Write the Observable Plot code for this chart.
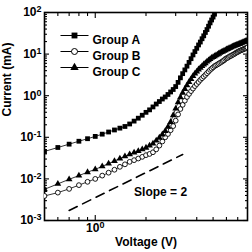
<!DOCTYPE html>
<html>
<head>
<meta charset="utf-8">
<script src="https://cdn.jsdelivr.net/npm/d3@7"></script>
<script src="https://cdn.jsdelivr.net/npm/@observablehq/plot@0.6"></script>
<style>
  html, body { margin: 0; padding: 0; background: #fff; }
  svg { display: block; }
</style>
</head>
<body>
<div id="chart"></div>
<script>
// Bias sweep (V) and measured current (mA) for each group
const voltage = [0.5,0.6,0.7,0.8,0.9,1.0,1.1,1.2,1.3,1.4,1.5,1.6,1.7,1.8,1.9,2.0,2.1,2.2,2.3,2.4,2.5,2.6,2.7,2.8,2.9,3.0,3.1,3.2,3.3,3.4,3.5,3.6,3.7,3.8,3.9,4.0,4.1,4.2,4.3,4.4,4.5,4.6,4.7,4.8,4.9,5.0,5.1,5.2,5.3,5.4,5.5,5.6,5.7,5.8,5.9,6.0,6.1,6.2,6.3,6.4,6.5,6.6,6.7,6.8,6.9,7.0,7.1,7.2,7.3,7.4,7.5,7.6,7.7,7.8,7.9,8.0];

const groupA = [0.0457,0.0569,0.0684,0.0804,0.0925,0.105,0.119,0.134,0.150,0.166,
  0.182,0.209,0.245,0.288,0.339,0.398,0.457,0.537,0.631,0.724,
  0.832,0.933,1.07,1.23,1.41,1.66,2.09,2.69,3.39,4.17,
  5.13,6.31,7.76,9.55,11.5,13.8,16.6,19.5,23.4,27.5,
  33.1,38.9,46.8,56.2,66.1,77.6,91.2];

const groupB = [0.00389,0.00468,0.00575,0.00708,0.00851,0.0100,0.0120,0.0141,0.0166,0.0195,
  0.0224,0.0257,0.0282,0.0309,0.0339,0.0372,0.0398,0.0437,0.0513,0.0631,
  0.0794,0.100,0.120,0.148,0.186,0.251,0.355,0.479,0.603,0.759,
  0.933,1.10,1.29,1.48,1.70,1.91,2.14,2.40,2.63,2.88,
  3.16,3.47,3.80,4.17,4.47,4.79,5.13,5.37,5.62,5.89,
  6.17,6.46,6.76,7.08,7.59,7.94,8.13,8.51,8.91,9.12,
  9.55,9.77,10.2,10.5,11.0,11.2,11.7,12.0,12.3,12.6,
  12.9,13.2,13.5,13.8,14.1,14.5];

const groupC = [0.00562,0.00759,0.00977,0.0120,0.0145,0.0170,0.0200,0.0234,0.0269,0.0309,
  0.0347,0.0389,0.0427,0.0468,0.0513,0.0562,0.0631,0.0708,0.0832,0.0977,
  0.117,0.141,0.178,0.234,0.339,0.490,0.692,0.912,1.17,1.45,
  1.78,2.14,2.51,2.95,3.39,3.80,4.27,4.68,5.13,5.62,
  6.03,6.61,7.08,7.59,8.13,8.51,8.91,9.33,9.77,10.2,
  10.7,11.2,11.5,12.0,12.3,12.9,13.2,13.8,14.1,14.5,
  15.1,15.5,15.8,16.2,16.6,17.0,17.4,17.8,18.2,18.6,
  19.1,19.5,20.0,20.4,20.9,21.4];

const groupNames = ["Group A", "Group B", "Group C"];

// Axis ticks
const yDecades = [1e-3, 1e-2, 1e-1, 1, 10, 100];
const yMinorFactors = [2, 3, 4, 5, 6, 7, 8, 9];
const xMajorTicks = [1];
const xMinorTicks = [0.6, 0.7, 0.8, 0.9, 2, 3, 4, 5, 6, 7];

// Reference power-law guide
const slopeValue = 2;
const slopeVoltage = [0.7, 3.3];
const slopeStartCurrent = 0.00174;
const slopeLabel = "Slope = " + slopeValue;

const series = [groupA, groupB, groupC];
const rows = series.flatMap((values, g) =>
  values.map((I, i) => ({V: voltage[i], I, group: groupNames[g]})));
const byGroup = name => rows.filter(d => d.group === name);

const yMinorTicks = yDecades.slice(0, -1).flatMap(d => yMinorFactors.map(k => k * d));
const guide = slopeVoltage.map(V => ({V, I: slopeStartCurrent * Math.pow(V / slopeVoltage[0], slopeValue)}));

const font = "'Liberation Sans', Arial, Helvetica, sans-serif";
const markerStyle = {
  "Group A": {symbol: "square", fill: "#000", stroke: "none", r: 2.7},
  "Group B": {symbol: "circle", fill: "#fff", stroke: "#000", r: 2.4},
  "Group C": {symbol: "triangle", fill: "#000", stroke: "none", r: 2.5}
};
const legendLine = {draw(ctx) { ctx.moveTo(-14, 0); ctx.lineTo(14, 0); }};
const textStyle = {fontFamily: font, fontWeight: "bold", fontSize: 12, fill: "#000"};
const noLabel = () => "";

const tickMarks = (ticks, size) => [
  Plot.axisX(ticks, {anchor: "bottom", tickSize: size, dy: -size, tickFormat: noLabel, label: null, strokeWidth: 1.1}),
  Plot.axisX(ticks, {anchor: "top", tickSize: size, dy: size, tickFormat: noLabel, label: null, strokeWidth: 1.1})
];
const tickMarksY = (ticks, size) => [
  Plot.axisY(ticks, {anchor: "left", tickSize: size, dx: size, tickFormat: noLabel, label: null, strokeWidth: 1.1}),
  Plot.axisY(ticks, {anchor: "right", tickSize: size, dx: -size, tickFormat: noLabel, label: null, strokeWidth: 1.1})
];

const legendMarks = groupNames.flatMap((name, i) => {
  const dy = 23 + 16 * i;
  const m = markerStyle[name];
  return [
    Plot.dot([name], {x: null, y: null, frameAnchor: "top-left", dx: 30, dy, symbol: legendLine, stroke: "#000", strokeWidth: 1, r: 4}),
    Plot.dot([name], {x: null, y: null, frameAnchor: "top-left", dx: 30, dy, symbol: m.symbol, fill: m.fill, stroke: m.stroke, strokeWidth: 1, r: m.r + 0.6}),
    Plot.text([name], {x: null, y: null, frameAnchor: "top-left", dx: 48, dy, textAnchor: "start", text: d => d, ...textStyle})
  ];
});

const chart = Plot.plot({
  width: 252,
  height: 252,
  marginTop: 12,
  marginBottom: 32,
  marginLeft: 44,
  marginRight: 5,
  style: {fontFamily: font, background: "#fff", color: "#000"},
  x: {type: "log", domain: [0.5, 8]},
  y: {type: "log", domain: [1e-3, 1e2]},
  marks: [
    ...tickMarks(xMinorTicks, 3),
    ...tickMarks(xMajorTicks, 5),
    ...tickMarksY(yMinorTicks, 3),
    ...tickMarksY(yDecades, 5),
    Plot.frame({stroke: "#000", strokeWidth: 1.6}),

    // tick labels, written as base^exponent and set as superscripts below
    Plot.text(yDecades, {x: null, y: d => d, frameAnchor: "left", dx: -3, textAnchor: "end",
      text: d => "10^" + Math.round(Math.log10(d)), ariaLabel: () => "y-tick-label", ...textStyle}),
    Plot.text(xMajorTicks, {x: d => d, y: null, frameAnchor: "bottom", dy: 11,
      text: d => "10^" + Math.round(Math.log10(d)), ariaLabel: () => "x-tick-label", ...textStyle}),

    // axis titles
    Plot.text(["Current (mA)"], {x: null, y: null, frameAnchor: "left", dx: -37, rotate: -90, text: d => d, ...textStyle}),
    Plot.text(["Voltage (V)"], {x: null, y: null, frameAnchor: "bottom", dy: 25, text: d => d, ...textStyle}),

    // slope guide
    Plot.line(guide, {x: "V", y: "I", stroke: "#000", strokeWidth: 1.6, strokeDasharray: "9,6"}),
    Plot.text([slopeLabel], {x: () => 1.7, y: () => 0.0047, textAnchor: "start", text: d => d, ...textStyle}),

    // measured curves
    Plot.line(rows, {x: "V", y: "I", z: "group", stroke: "#000", strokeWidth: 0.8, clip: true}),
    ...groupNames.map(name => {
      const m = markerStyle[name];
      return Plot.dot(byGroup(name), {x: "V", y: "I", symbol: m.symbol, fill: m.fill, stroke: m.stroke, strokeWidth: 0.9, r: m.r, clip: true});
    }),

    ...legendMarks
  ]
});

// Render exponents as raised, smaller digits
function superscript(svg, label) {
  const nodes = [];
  svg.querySelectorAll(`[aria-label="${label}"]`).forEach(el => {
    if (el.tagName.toLowerCase() === "text") nodes.push(el);
    else el.querySelectorAll("text").forEach(t => nodes.push(t));
  });
  nodes.forEach(node => {
    if (!node.textContent.includes("^")) return;
    const [base, exp] = node.textContent.split("^");
    node.textContent = base;
    const sup = document.createElementNS("http://www.w3.org/2000/svg", "tspan");
    sup.setAttribute("dy", "-4");
    sup.setAttribute("font-size", "9");
    sup.textContent = exp;
    node.appendChild(sup);
  });
}
superscript(chart, "y-tick-label");
superscript(chart, "x-tick-label");

document.getElementById("chart").appendChild(chart);
</script>
</body>
</html>
